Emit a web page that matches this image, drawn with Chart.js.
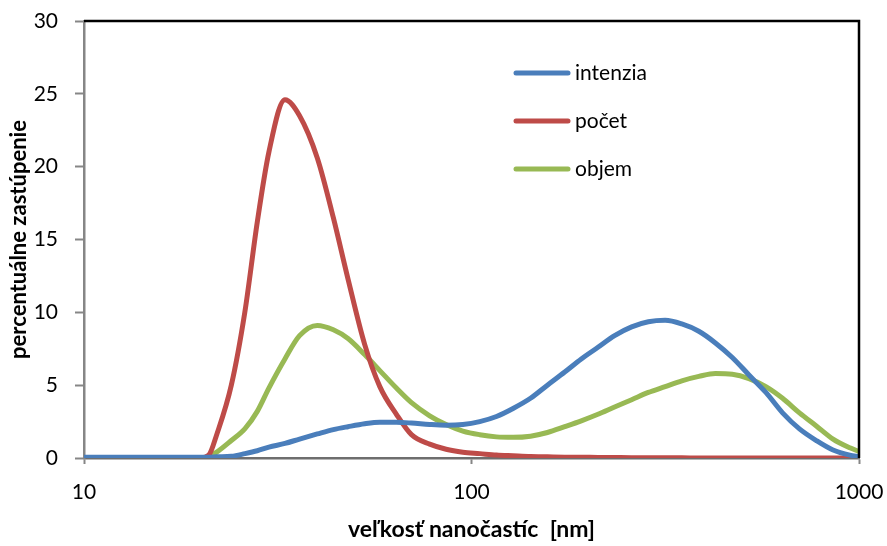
<!DOCTYPE html>
<html>
<head>
<meta charset="utf-8">
<script src="https://cdn.jsdelivr.net/npm/chart.js@4/dist/chart.umd.min.js"></script>
<style>
  html, body { margin: 0; padding: 0; background: #fff; }
  #wrap { width: 887px; height: 546px; }
</style>
</head>
<body>
<div id="wrap"><canvas id="chart"></canvas></div>
<script>
'use strict';

// particle size [nm]
let sizes = [10, 15, 20, 21, 22, 24, 26, 28, 30, 33, 36, 40, 44, 48, 53, 58, 64, 70, 78, 86, 95,
  105, 116, 128, 142, 157, 174, 192, 212, 234, 259, 286, 316, 349, 386, 426, 471, 520, 575,
  635, 702, 776, 857, 947, 1000];

let intenzia = [0.05, 0.05, 0.05, 0.05, 0.08, 0.12, 0.3, 0.5, 0.75, 1.0, 1.3, 1.65, 1.95, 2.15, 2.35,
  2.45, 2.45, 2.4, 2.3, 2.25, 2.3, 2.5, 2.85, 3.4, 4.1, 5.0, 5.9, 6.8, 7.6, 8.4, 9.0, 9.35,
  9.45, 9.2, 8.7, 7.9, 6.9, 5.7, 4.5, 3.1, 2.0, 1.2, 0.55, 0.2, 0.1];

let pocet = [0, 0, 0, 0.2, 1.6, 5.0, 10, 16.2, 21, 24.6, 23.5, 20.6, 16.5, 12.3, 7.8, 4.9, 3.0,
  1.6, 0.95, 0.6, 0.4, 0.3, 0.2, 0.15, 0.1, 0.08, 0.06, 0.05, 0.04, 0.03, 0.02, 0.02, 0.01,
  0.01, 0, 0, 0, 0, 0, 0, 0, 0, 0, 0, 0];

let objem = [0, 0, 0, 0.1, 0.4, 1.2, 2.0, 3.2, 4.8, 6.8, 8.4, 9.1, 8.8, 8.2, 7.1, 6.0, 4.8,
  3.8, 2.9, 2.3, 1.85, 1.6, 1.45, 1.42, 1.5, 1.75, 2.15, 2.55, 3.0, 3.5, 4.0, 4.5, 4.9, 5.3,
  5.6, 5.8, 5.75, 5.45, 4.9, 4.1, 3.1, 2.2, 1.3, 0.7, 0.45];

let xTicks = [10, 100, 1000];
let seriesNames = ['intenzia', 'počet', 'objem'];
let seriesColors = ['#4A7EBB', '#BE4B48', '#98B954'];

function toPoints(vals) {
  let pts = [];
  for (let i = 0; i < sizes.length; i++) {
    pts.push({ x: sizes[i], y: vals[i] });
  }
  return pts;
}

let font = 'Lato, "Liberation Sans", sans-serif';

// box around the plot area + legend inside it
let framePlugin = {
  id: 'frame',
  afterDraw(chart) {
    let c = chart.ctx;
    let a = chart.chartArea;
    c.save();
    c.strokeStyle = '#000';
    c.lineWidth = 2.5;
    c.beginPath();
    c.moveTo(a.left, a.top);
    c.lineTo(a.right, a.top);
    c.lineTo(a.right, a.bottom);
    c.stroke();

    c.font = '21px ' + font;
    c.textBaseline = 'middle';
    c.textAlign = 'left';
    chart.data.datasets.forEach(function (ds, i) {
      let y = 73 + i * 48;
      c.strokeStyle = ds.borderColor;
      c.lineWidth = 5;
      c.lineCap = 'round';
      c.beginPath();
      c.moveTo(516, y);
      c.lineTo(568, y);
      c.stroke();
      c.fillStyle = '#000';
      c.fillText(ds.label, 575, y);
    });
    c.restore();
  }
};

let datasets = [];
for (let i = 0; i < seriesNames.length; i++) {
  let vals = [intenzia, pocet, objem][i];
  datasets.push({
    label: seriesNames[i],
    data: toPoints(vals),
    borderColor: seriesColors[i],
    backgroundColor: seriesColors[i],
    borderWidth: 5,
    pointRadius: 0,
    cubicInterpolationMode: 'monotone',
    fill: false
  });
}

let ctx = document.getElementById('chart');
new Chart(ctx, {
  type: 'line',
  data: { datasets: datasets },
  options: {
    responsive: true,
    maintainAspectRatio: false,
    animation: false,
    layout: { padding: { left: 0, right: 28, top: 21, bottom: 0 } },
    plugins: {
      legend: { display: false },
      tooltip: { enabled: false }
    },
    scales: {
      x: {
        type: 'logarithmic',
        min: 10,
        max: 1000,
        afterBuildTicks: function (scale) {
          scale.ticks = xTicks.map(function (v) { return { value: v }; });
        },
        afterFit: function (scale) {
          scale.height = 88;
          scale.paddingLeft = 0;
          scale.paddingRight = 0;
        },
        ticks: {
          color: '#000',
          padding: 16,
          maxRotation: 0,
          autoSkip: false,
          font: { family: font, size: 21 },
          callback: function (v) { return String(v); }
        },
        grid: {
          drawOnChartArea: false,
          drawTicks: true,
          tickLength: 6,
          tickColor: '#868686',
          tickWidth: 2
        },
        border: { color: '#6e6e6e', width: 2.5 },
        title: {
          display: true,
          text: 'veľkosť nanočastíc  [nm]',
          color: '#000',
          font: { family: font, size: 23, weight: 'bold' },
          padding: { top: 0, bottom: 3 }
        }
      },
      y: {
        min: 0,
        max: 30,
        afterFit: function (scale) {
          scale.width = 84;
          scale.paddingTop = 0;
          scale.paddingBottom = 0;
        },
        ticks: {
          stepSize: 5,
          color: '#000',
          padding: 17,
          font: { family: font, size: 21 }
        },
        grid: {
          drawOnChartArea: false,
          drawTicks: true,
          tickLength: 9,
          tickColor: '#868686',
          tickWidth: 2
        },
        border: { color: '#868686', width: 2.5 },
        title: {
          display: true,
          text: 'percentuálne zastúpenie',
          color: '#000',
          font: { family: font, size: 22, weight: 'bold' },
          padding: { top: 6, bottom: 0 }
        }
      }
    }
  },
  plugins: [framePlugin]
});
</script>
</body>
</html>
